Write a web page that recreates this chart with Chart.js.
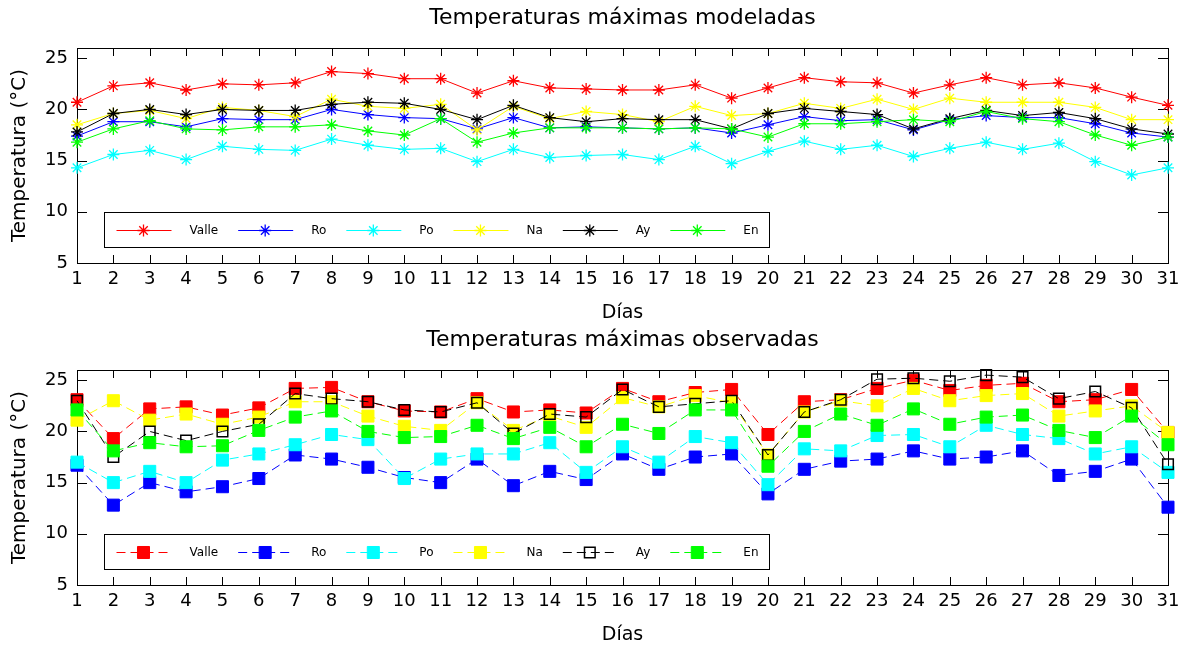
<!DOCTYPE html>
<html lang="es">
<head>
<meta charset="UTF-8">
<title>Temperaturas máximas</title>
<style>
  body { margin: 0; background: #fff; }
  .panel { position: absolute; left: 0; width: 1181px; height: 325px; }
  #top { top: 0; }
  #bottom { top: 322px; }
</style>
</head>
<body>
<div class="panel" id="top"><canvas id="chartMod" width="1181" height="325"></canvas></div>
<div class="panel" id="bottom"><canvas id="chartObs" width="1181" height="325"></canvas></div>

<script src="https://cdn.jsdelivr.net/npm/chart.js@4/dist/chart.umd.min.js"></script>
<script>
// --- data ---
const days = ['1','2','3','4','5','6','7','8','9','10','11','12','13','14','15','16',
              '17','18','19','20','21','22','23','24','25','26','27','28','29','30','31'];
const yTicks = [5, 10, 15, 20, 25];
const stations = ['Valle', 'Ro', 'Po', 'Na', 'Ay', 'En'];
const colors = ['#ff0000', '#0000ff', '#00ffff', '#ffff00', '#000000', '#00ff00'];

// modeladas
const valleMod = [20.7, 22.3, 22.6, 21.9, 22.5, 22.4, 22.6, 23.7, 23.5, 23.0, 23.0, 21.6, 22.8, 22.1, 22.0, 21.9, 21.9, 22.4, 21.1, 22.1, 23.1, 22.7, 22.6, 21.6, 22.4, 23.1, 22.4, 22.6, 22.1, 21.2, 20.4];
const roMod    = [17.4, 18.8, 18.8, 18.3, 19.1, 19.0, 19.0, 20.0, 19.5, 19.2, 19.1, 18.1, 19.2, 18.2, 18.3, 18.2, 18.1, 18.2, 17.7, 18.5, 19.3, 18.9, 19.0, 18.0, 19.0, 19.4, 19.2, 19.2, 18.6, 17.7, 17.3];
const poMod    = [14.3, 15.6, 16.0, 15.1, 16.4, 16.1, 16.0, 17.1, 16.5, 16.1, 16.2, 14.9, 16.1, 15.3, 15.5, 15.6, 15.1, 16.4, 14.7, 15.9, 16.9, 16.1, 16.5, 15.4, 16.2, 16.8, 16.1, 16.7, 14.9, 13.6, 14.3];
const naMod    = [18.5, 19.6, 19.9, 19.1, 20.2, 19.9, 19.3, 21.0, 20.3, 20.1, 20.5, 18.0, 20.3, 19.1, 19.8, 19.5, 18.8, 20.3, 19.4, 19.6, 20.6, 20.1, 21.0, 20.0, 21.1, 20.7, 20.7, 20.7, 20.2, 19.0, 19.0];
const ayMod    = [17.8, 19.6, 20.0, 19.5, 20.0, 19.9, 19.9, 20.5, 20.7, 20.6, 20.0, 19.0, 20.4, 19.2, 18.8, 19.1, 19.0, 19.0, 18.1, 19.6, 20.1, 19.8, 19.5, 18.1, 19.1, 19.9, 19.4, 19.7, 19.1, 18.1, 17.6];
const enMod    = [16.8, 18.1, 18.9, 18.1, 18.0, 18.3, 18.3, 18.5, 17.9, 17.5, 19.1, 16.8, 17.7, 18.2, 18.2, 18.2, 18.1, 18.2, 18.1, 17.3, 18.6, 18.6, 18.8, 19.0, 18.8, 19.8, 19.1, 18.8, 17.5, 16.5, 17.3];

// observadas
const valleObs = [23.1, 19.3, 22.2, 22.4, 21.6, 22.3, 24.2, 24.3, 22.9, 22.0, 21.9, 23.2, 21.9, 22.1, 21.8, 24.2, 22.9, 23.8, 24.1, 19.7, 22.9, 23.1, 24.2, 25.0, 24.0, 24.5, 24.7, 22.9, 23.1, 24.1, 19.9];
const roObs    = [16.7, 12.8, 15.0, 14.1, 14.6, 15.4, 17.7, 17.3, 16.5, 15.5, 15.0, 17.3, 14.7, 16.1, 15.3, 17.8, 16.3, 17.5, 17.8, 13.9, 16.3, 17.1, 17.3, 18.1, 17.3, 17.5, 18.1, 15.7, 16.1, 17.3, 12.6];
const poObs    = [17.0, 15.0, 16.1, 15.0, 17.2, 17.8, 18.7, 19.7, 19.2, 15.4, 17.3, 17.8, 17.8, 18.9, 16.0, 18.5, 17.0, 19.5, 18.9, 14.8, 18.3, 18.1, 19.6, 19.7, 18.5, 20.6, 19.7, 19.3, 17.8, 18.5, 16.0];
const naObs    = [21.1, 23.0, 21.1, 21.7, 20.7, 21.4, 22.9, 22.9, 21.5, 20.5, 20.1, 22.8, 20.1, 21.5, 20.4, 23.3, 22.4, 23.5, 22.8, 17.7, 21.9, 23.0, 22.5, 24.2, 23.0, 23.5, 23.7, 21.5, 22.0, 22.5, 19.9];
const ayObs    = [23.0, 17.5, 20.0, 19.1, 20.0, 20.7, 23.7, 23.2, 22.9, 22.1, 21.9, 22.8, 19.8, 21.7, 21.4, 24.1, 22.4, 22.7, 23.0, 17.7, 21.9, 23.1, 25.1, 25.2, 24.9, 25.5, 25.3, 23.2, 23.9, 22.3, 16.8];
const enObs    = [22.1, 18.1, 18.9, 18.5, 18.6, 20.1, 21.4, 22.0, 20.0, 19.4, 19.5, 20.6, 19.3, 20.4, 18.5, 20.7, 19.8, 22.1, 22.1, 16.6, 20.0, 21.7, 20.6, 22.2, 20.7, 21.4, 21.6, 20.1, 19.4, 21.5, 18.7];

const FONT = '"DejaVu Sans", "Liberation Sans", sans-serif';

// frame + inward ticks on all four sides (octave style)
const framePlugin = {
  id: 'frame',
  beforeDatasetsDraw(chart) {
    const { ctx, chartArea: a, scales: { x, y } } = chart;
    ctx.save();
    ctx.strokeStyle = '#000';
    ctx.lineWidth = 1;
    ctx.strokeRect(Math.round(a.left) + 0.5, Math.round(a.top) + 0.5,
                   Math.round(a.right - a.left), Math.round(a.bottom - a.top));
    ctx.beginPath();
    x.ticks.forEach((t, i) => {
      const px = Math.round(x.getPixelForTick(i)) + 0.5;
      ctx.moveTo(px, a.top); ctx.lineTo(px, a.top + 8);
      ctx.moveTo(px, a.bottom); ctx.lineTo(px, a.bottom - 8);
    });
    y.ticks.forEach(t => {
      const py = Math.round(y.getPixelForValue(t.value)) + 0.5;
      ctx.moveTo(a.left, py); ctx.lineTo(a.left + 10, py);
      ctx.moveTo(a.right, py); ctx.lineTo(a.right - 10, py);
    });
    ctx.stroke();
    ctx.restore();
  }
};

// horizontal legend box inside the lower-left of the plot
const boxLegend = {
  id: 'boxLegend',
  afterDatasetsDraw(chart) {
    const { ctx, chartArea: a } = chart;
    const bx = Math.round(a.left + 27) + 0.5, by = Math.round(a.bottom - 51) + 0.5;
    const bw = 665, bh = 35;
    ctx.save();
    ctx.fillStyle = '#fff';
    ctx.fillRect(bx, by, bw, bh);
    ctx.strokeStyle = '#000';
    ctx.lineWidth = 1;
    ctx.setLineDash([]);
    ctx.strokeRect(bx, by, bw, bh);
    ctx.font = '12px ' + FONT;
    ctx.textBaseline = 'middle';
    const cy = Math.round(by + bh / 2) + 0.5;
    let cx = bx + 12;
    chart.data.datasets.forEach(ds => {
      ctx.strokeStyle = ds.borderColor;
      ctx.lineWidth = ds.borderWidth;
      ctx.setLineDash(ds.borderDash || []);
      ctx.beginPath();
      ctx.moveTo(cx, cy); ctx.lineTo(cx + 55, cy);
      ctx.stroke();
      ctx.setLineDash([]);
      ctx.fillStyle = ds.pointBackgroundColor;
      ctx.strokeStyle = ds.pointBorderColor;
      ctx.lineWidth = ds.pointBorderWidth;
      Chart.helpers.drawPoint(ctx, { pointStyle: ds.pointStyle, radius: ds.pointRadius,
        borderWidth: ds.pointBorderWidth, rotation: 0 }, cx + 27, cy);
      ctx.fillStyle = '#000';
      ctx.fillText(ds.label, cx + 73, cy);
      cx += 73 + ctx.measureText(ds.label).width + 20;
    });
    ctx.restore();
  }
};

function makeChart(id, title, series, observed) {
  const datasets = series.map((vals, i) => ({
    label: stations[i],
    data: vals,
    borderColor: colors[i],
    borderWidth: 1,
    borderDash: observed ? [9, 5] : [],
    pointStyle: observed ? 'rect' : 'star',
    pointRadius: observed ? (stations[i] === 'Ay' ? 7.5 : 8.5) : 6,
    pointHoverRadius: observed ? 8.5 : 6,
    pointBackgroundColor: observed ? (stations[i] === 'Ay' ? 'rgba(0,0,0,0)' : colors[i]) : colors[i],
    pointBorderColor: colors[i],
    pointBorderWidth: observed ? (stations[i] === 'Ay' ? 1.5 : 1) : 1.3,
    tension: 0,
    clip: false,
    order: series.length - i
  }));

  return new Chart(document.getElementById(id), {
    type: 'line',
    data: { labels: days, datasets: datasets },
    options: {
      responsive: false,
      animation: false,
      layout: { padding: { left: 0, right: 13, top: 0, bottom: 0 } },
      plugins: {
        legend: { display: false },
        tooltip: { enabled: false },
        title: {
          display: true,
          fullSize: false,
          text: title,
          color: '#000',
          font: { family: FONT, size: 22, weight: 'normal' },
          padding: { top: 5, bottom: 16.6 }
        }
      },
      scales: {
        x: {
          type: 'category',
          offset: false,
          grid: { display: false, drawTicks: false },
          border: { display: false },
          ticks: { color: '#000', autoSkip: false, maxRotation: 0, padding: 6,
                   font: { family: FONT, size: 18 } },
          title: { display: true, text: 'Días', color: '#000',
                   font: { family: FONT, size: 19 }, padding: { top: 0, bottom: 1 } },
          afterFit(s) { s.height = 62; s.paddingLeft = 0; s.paddingRight = 0; }
        },
        y: {
          min: 5,
          max: 26,
          grid: { display: false, drawTicks: false },
          border: { display: false },
          afterBuildTicks(s) { s.ticks = yTicks.map(v => ({ value: v })); },
          ticks: { color: '#000', padding: 9, font: { family: FONT, size: 18 } },
          title: { display: true, text: 'Temperatura (°C)', color: '#000',
                   font: { family: FONT, size: 20 }, padding: { top: 8, bottom: 0 } },
          afterFit(s) { s.width = 77; }
        }
      }
    },
    plugins: [framePlugin, boxLegend]
  });
}

makeChart('chartMod', 'Temperaturas máximas modeladas',
  [valleMod, roMod, poMod, naMod, ayMod, enMod], false);
makeChart('chartObs', 'Temperaturas máximas observadas',
  [valleObs, roObs, poObs, naObs, ayObs, enObs], true);
</script>
</body>
</html>
